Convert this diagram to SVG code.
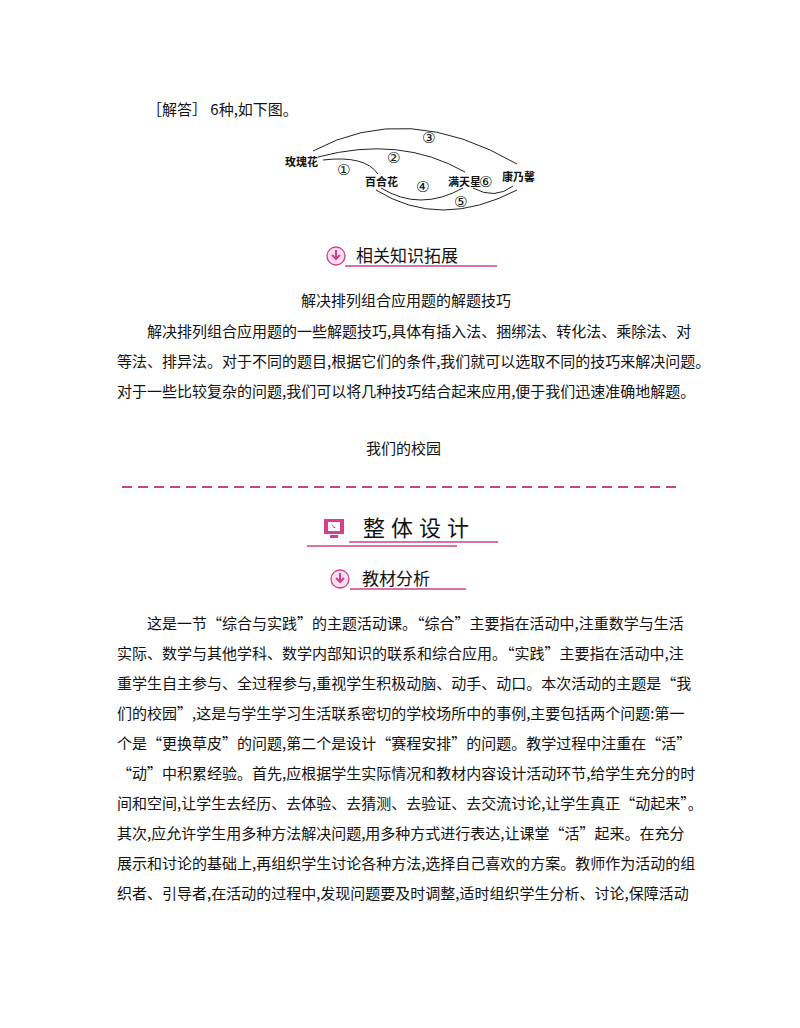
<svg xmlns="http://www.w3.org/2000/svg" width="800" height="1028" viewBox="0 0 800 1028">
<style>
text{font-family:"Noto Sans CJK SC","Liberation Serif",serif;fill:#111}
.b{font-size:15px}
.s{font-size:11px;font-weight:bold}
.c{fill:none;stroke:#222;stroke-width:1}
.n{font-family:"DejaVu Sans",sans-serif;font-size:15px}
.h{font-size:17px}
.pk{stroke:#c8428e;stroke-width:1.3;fill:none}
</style>
<rect width="800" height="1028" fill="#fff"/>
<text class="b" x="147" y="115">［解答］  6种,如下图。</text>
<g id="edges">
<path class="c" d="M313,151 Q407,100 517,164"/>
<path class="c" d="M318,157 Q400,135 465,172"/>
<path class="c" d="M323,160 Q365,155 378,174"/>
<path class="c" d="M381,188 Q420,212 463,188"/>
<path class="c" d="M376,190 Q440,230 517,190"/>
<path class="c" d="M473,188 Q495,200 513,186"/>
</g>
<g id="nodes">
<text class="s" x="285" y="166">玫瑰花</text>
<text class="s" x="365" y="186">百合花</text>
<text class="s" x="448" y="186">满天星</text>
<text class="s" x="502" y="181">康乃馨</text>
<text class="n" x="422" y="143">③</text>
<text class="n" x="387" y="163">②</text>
<text class="n" x="337" y="175">①</text>
<text class="n" x="416" y="192">④</text>
<text class="n" x="454" y="207">⑤</text>
<text class="n" x="479" y="187">⑥</text>
</g>
<g id="h1">
<circle cx="336" cy="256" r="9" fill="#fde" stroke="#c8428e" stroke-width="1.3"/>
<path d="M336,250 v8 M332,255 l4,4 l4,-4" stroke="#c8428e" stroke-width="2" fill="none"/>
<text class="h" x="356" y="262">相关知识拓展</text>
<line class="pk" x1="345" y1="266" x2="497" y2="266"/>
</g>
<text class="b" x="301" y="306">解决排列组合应用题的解题技巧</text>
<text class="b" x="147" y="337">解决排列组合应用题的一些解题技巧,具体有插入法、捆绑法、转化法、乘除法、对</text>
<text class="b" x="117" y="367">等法、排异法。对于不同的题目,根据它们的条件,我们就可以选取不同的技巧来解决问题。</text>
<text class="b" x="117" y="397">对于一些比较复杂的问题,我们可以将几种技巧结合起来应用,便于我们迅速准确地解题。</text>
<text class="b" x="366" y="454">我们的校园</text>
<line x1="122" y1="487" x2="678" y2="487" stroke="#c8428e" stroke-width="2" stroke-dasharray="10,6"/>
<g id="h2">
<rect x="324" y="519" width="20" height="15" fill="#d63f8c"/>
<rect x="328" y="522" width="12" height="9" fill="#fff"/>
<path d="M331,524 l5,4 l-2,0 z" fill="#d63f8c"/>
<rect x="330" y="535" width="8" height="3" fill="#d63f8c"/>
<text x="363" y="536" style="font-size:22px;letter-spacing:6px">整体设计</text>
<line class="pk" x1="349" y1="542" x2="498" y2="542"/>
<line class="pk" x1="307" y1="546" x2="457" y2="546"/>
</g>
<g id="h3">
<circle cx="340" cy="579" r="9" fill="#fde" stroke="#c8428e" stroke-width="1.3"/>
<path d="M340,573 v8 M336,578 l4,4 l4,-4" stroke="#c8428e" stroke-width="2" fill="none"/>
<text class="h" x="362" y="585">教材分析</text>
<line class="pk" x1="350" y1="589" x2="466" y2="589"/>
</g>
<g id="body">
<text class="b" x="147" y="629">这是一节“综合与实践”的主题活动课。“综合”主要指在活动中,注重数学与生活</text>
<text class="b" x="117" y="659">实际、数学与其他学科、数学内部知识的联系和综合应用。“实践”主要指在活动中,注</text>
<text class="b" x="117" y="689">重学生自主参与、全过程参与,重视学生积极动脑、动手、动口。本次活动的主题是“我</text>
<text class="b" x="117" y="719">们的校园”,这是与学生学习生活联系密切的学校场所中的事例,主要包括两个问题:第一</text>
<text class="b" x="117" y="749">个是“更换草皮”的问题,第二个是设计“赛程安排”的问题。教学过程中注重在“活”</text>
<text class="b" x="117" y="779">“动”中积累经验。首先,应根据学生实际情况和教材内容设计活动环节,给学生充分的时</text>
<text class="b" x="117" y="809">间和空间,让学生去经历、去体验、去猜测、去验证、去交流讨论,让学生真正“动起来”。</text>
<text class="b" x="117" y="839">其次,应允许学生用多种方法解决问题,用多种方式进行表达,让课堂“活”起来。在充分</text>
<text class="b" x="117" y="869">展示和讨论的基础上,再组织学生讨论各种方法,选择自己喜欢的方案。教师作为活动的组</text>
<text class="b" x="117" y="899">织者、引导者,在活动的过程中,发现问题要及时调整,适时组织学生分析、讨论,保障活动</text>
</g>
</svg>
